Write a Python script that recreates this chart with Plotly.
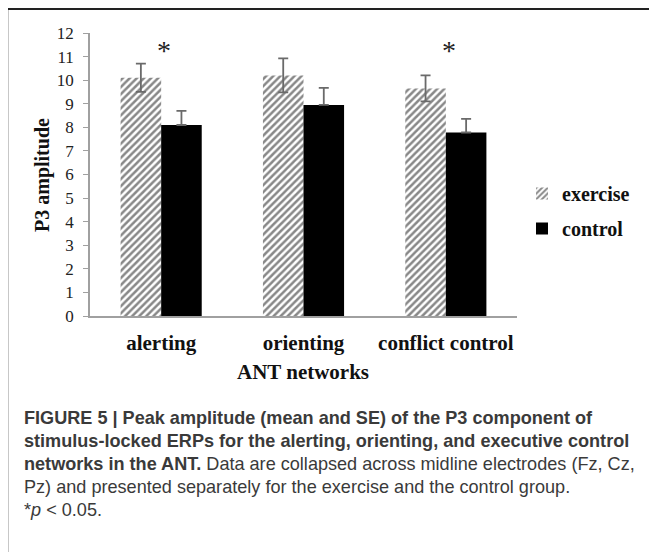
import plotly.graph_objects as go

categories = ["alerting", "orienting", "conflict control"]
exercise_mean = [10.1, 10.2, 9.65]
exercise_se = [0.6, 0.72, 0.55]
control_mean = [8.1, 8.95, 7.78]
control_se = [0.6, 0.72, 0.58]
y_ticks = list(range(0, 13))
sig_categories = ["alerting", "conflict control"]
sig_y = 11.25

caption_lines = [
    "<b>FIGURE 5 | Peak amplitude (mean and SE) of the P3 component of</b>",
    "<b>stimulus-locked ERPs for the alerting, orienting, and executive control</b>",
    "<b>networks in the ANT.</b> Data are collapsed across midline electrodes (Fz, Cz,",
    "Pz) and presented separately for the exercise and the control group.",
    "*<i>p</i> &lt; 0.05.",
]

# the page body has an 8px margin; the figure is sized/placed to compensate
OFF = 8
WIN_W, WIN_H = 657, 552
W, H = WIN_W - OFF, WIN_H - OFF
# plot area in window pixels
PL, PR, PT, PB = 90, 517, 33, 316
L, T = PL - OFF, PT - OFF
R = W - (PR - OFF)
B = H - (PB - OFF)
pw = PR - PL
ph = PB - PT

def px(x):
    return (x - PL) / pw

def py(y):
    return (PB - y) / ph

serif = "Liberation Serif, Times New Roman, serif"
sans = "Liberation Sans, Arial, sans-serif"

fig = go.Figure()
fig.add_trace(go.Bar(
    x=categories, y=exercise_mean, name="<b>exercise</b>", legendgroup="a",
    marker=dict(color="white", line=dict(width=0),
                pattern=dict(shape="/", fgcolor="#111", bgcolor="white", size=5, solidity=0.5)),
    error_y=dict(type="data", array=exercise_se, color="#6a6a6a", thickness=1.8, width=5),
))
fig.add_trace(go.Bar(
    x=categories, y=control_mean, name="<b>control</b>", legendgroup="b",
    marker=dict(color="black", line=dict(width=0)),
    error_y=dict(type="data", array=control_se, arrayminus=[0] * len(control_se),
                 symmetric=False, color="#6a6a6a", thickness=1.8, width=5),
))

annotations = []
for c in sig_categories:
    annotations.append(dict(x=c, y=sig_y, xref="x", yref="y", text="*", showarrow=False,
                            xanchor="center", yanchor="middle",
                            font=dict(family=serif, size=28, color="#222"), xshift=3))
annotations.append(dict(x=px(42), y=py(175), xref="paper", yref="paper", text="<b>P3 amplitude</b>",
                        textangle=-90, showarrow=False, xanchor="center", yanchor="middle",
                        font=dict(family=serif, size=20, color="#111")))
annotations.append(dict(x=px(303), y=py(372), xref="paper", yref="paper", text="<b>ANT networks</b>",
                        showarrow=False, xanchor="center", yanchor="middle",
                        font=dict(family=serif, size=21, color="#111")))
for i, line in enumerate(caption_lines):
    annotations.append(dict(x=px(22), y=py(418 + i * 23), xref="paper", yref="paper", text=line,
                            xanchor="left", yanchor="middle", showarrow=False, align="left",
                            font=dict(family=sans, size=18.1, color="#3a3a3a")))

shapes = [
    dict(type="line", xref="paper", yref="paper", x0=px(6), x1=px(660), y0=py(8.5), y1=py(8.5),
         line=dict(color="#222", width=3)),
    dict(type="line", xref="paper", yref="paper", x0=px(7), x1=px(7), y0=py(8), y1=py(560),
         line=dict(color="#222", width=2.5)),
]

fig.update_layout(
    width=W, height=H,
    margin=dict(l=L, r=R, t=T, b=B, pad=0, autoexpand=False),
    paper_bgcolor="white", plot_bgcolor="white",
    barmode="group", bargap=0.43, bargroupgap=0,
    showlegend=True,
    legend=dict(x=px(522), y=py(174), xanchor="left", yanchor="top", traceorder="grouped",
                font=dict(family=serif, size=20, color="#111"), tracegroupgap=6,
                bgcolor="rgba(0,0,0,0)", itemwidth=30),
    xaxis=dict(showline=True, linecolor="#a0a0a0", linewidth=1.5, ticks="outside", ticklen=7,
               tickcolor="rgba(0,0,0,0)", tickfont=dict(family=serif, size=21, color="#111"),
               showgrid=False, zeroline=False,
               ticktext=["<b>%s</b>" % c for c in categories], tickvals=categories),
    yaxis=dict(range=[0, 12], tickvals=y_ticks, showline=True, linecolor="#a0a0a0", linewidth=1.5,
               ticks="outside", ticklen=5, tickcolor="#a0a0a0", ticklabelstandoff=6,
               tickfont=dict(family=serif, size=17, color="#222"), showgrid=False, zeroline=False),
    annotations=annotations,
    shapes=shapes,
)

fig.write_html("out.html")
